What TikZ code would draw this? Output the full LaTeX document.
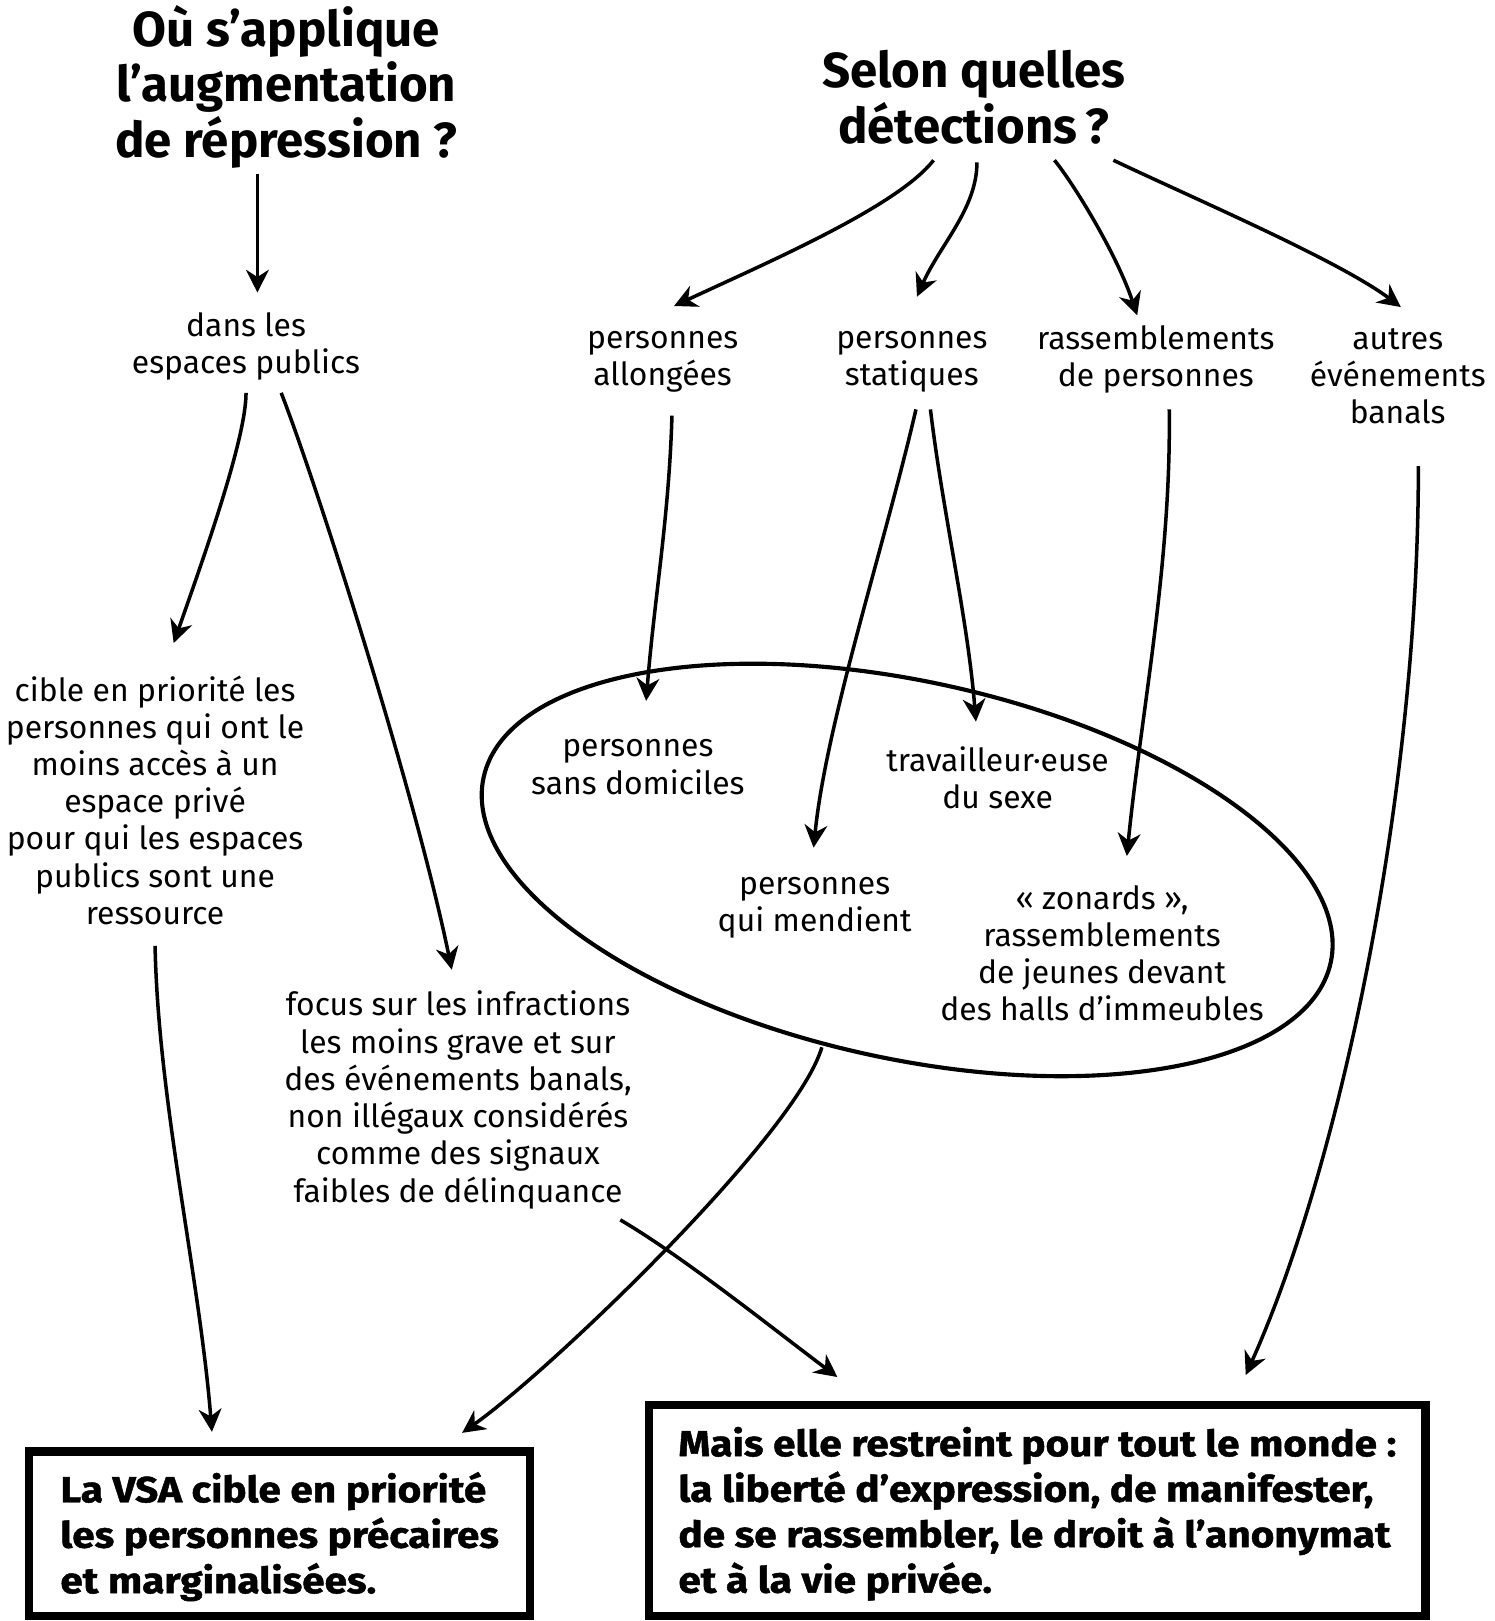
\documentclass[tikz,border=0pt]{standalone}
\usepackage{fontspec}
\setmainfont{Fira Sans}
\newfontfamily\heavyfont{Fira Sans}[BoldFeatures={FakeBold=1.3, FakeStretch=1.12}]
\usetikzlibrary{shapes, positioning, arrows.meta, calc}

\tikzset{
  question/.style={align=center, inner sep=0pt, font=\fontsize{23.8}{27}\selectfont\bfseries},
  detect/.style={align=center, inner sep=0pt, font=\fontsize{15.4}{18}\selectfont},
  verdict/.style={draw, line width=4pt, align=left, inner xsep=0pt,
    font=\fontsize{17.5}{22}\selectfont\heavyfont\bfseries},
  link/.style={-{Stealth[length=11pt,width=11pt,inset=3.5pt]}, line width=1.7pt},
}

\begin{document}
\begin{tikzpicture}[x=0.5pt, y=-0.5pt]
  \useasboundingbox (0,0) rectangle (1446,1568);

  % questions
  \node[question] (titleL) at (277,84) {Où s’applique\\l’augmentation\\de répression ?};
  \node[question] (titleR) at (942,94) {Selon quelles\\détections\,?};

  % detections
  \node[detect] (dans) at (238,335) {dans les\\espaces publics};
  \node[detect] (allong) at (641,350) {personnes\\allongées};
  \node[detect] (statiq) at (882,350) {personnes\\statiques};
  \node[detect] (rassemb) at (1118,348) {rassemblements\\de personnes};
  \node[detect] (autres) at (1352,364) {autres\\événements\\banals};
  \node[detect] (cible) at (150,774) {cible en priorité les\\personnes qui ont le\\moins accès à un\\espace privé\\pour qui les espaces\\publics sont une\\ressource};
  \node[detect] (focus) at (443,1064) {focus sur les infractions\\les moins grave et sur\\des événements banals,\\non illégaux considérés\\comme des signaux\\faibles de délinquance};

  % groupes cibles
  \node[
  draw,
  ellipse,
  line width=2pt,
  inner sep=0pt,
  minimum width=419.4pt,
  minimum height=182.4pt,
  rotate=-12.35
  ] (grp) at (877.5,841.5) {};
  \node[detect] (sansdom) at (617,742) {personnes\\sans domiciles};
  \node[detect] (mendient) at (788,878) {personnes\\qui mendient};
  \node[detect] (travail) at (965,752) {travailleur·euse\\du sexe};
  \node[detect] (zonards) at (1066,922) {« zonards »,\\rassemblements\\de jeunes devant\\des halls d’immeubles};

  % conclusions
  \node[
  verdict,
  minimum width=242.5pt,
  minimum height=79.5pt
  ] (boxL) at (270.5,1483.5) {\rule{0pt}{17.5pt}La VSA cible en priorité\\les personnes précaires\\et marginalisées.};
  \node[
  verdict,
  minimum width=375.5pt,
  minimum height=102pt
  ] (boxR) at (1003.5,1461) {\rule{0pt}{17.5pt}Mais elle restreint pour tout le monde :\\la liberté d’expression, de manifester,\\de se rassembler, le droit à l’anonymat\\et à la vie privée.};

  % arrows
  \draw[link] ($(titleL)+(-28,84)$) -- ($(dans)+(11,-52)$);
  \draw[link] ($(titleR)+(-39,61)$) .. controls +(-35,45) and +(90,-42) .. ($(allong)+(11,-54)$);
  \draw[link] ($(titleR)+(3,63)$) .. controls +(0,45) and +(22,-50) .. ($(statiq)+(5,-63)$);
  \draw[link] ($(titleR)+(78,61)$) .. controls +(18,22) and +(-20,-60) .. ($(rassemb)+(-18,-43)$);
  \draw[link] ($(titleR)+(135,61)$) .. controls +(80,38) and +(-60,-45) .. ($(autres)+(3,-67)$);
  \draw[link] ($(dans)+(0,45)$) .. controls +(0,45) and +(28,-80) .. ($(cible)+(18,-152)$);
  \draw[link] ($(dans)+(34,45)$) .. controls +(35,90) and +(-35,-170) .. ($(focus)+(-6,-126)$);
  \draw[link] ($(allong)+(9,52)$) .. controls +(-3,100) and +(8,-100) .. ($(sansdom)+(8,-64)$);
  \draw[link] ($(statiq)+(4,46)$) .. controls +(-30,130) and +(12,-120) .. ($(mendient)+(-1,-58)$);
  \draw[link] ($(statiq)+(18,46)$) .. controls +(12,100) and +(-8,-100) .. ($(travail)+(-21,-54)$);
  \draw[link] ($(rassemb)+(13,48)$) .. controls +(2,150) and +(14,-140) .. ($(zonards)+(24,-94)$);
  \draw[link] ($(autres)+(20,87)$) .. controls +(0,320) and +(90,-200) .. ($(boxR)+(201.5,-131)$);
  \draw[link] ($(cible)+(0,141)$) .. controls +(3,150) and +(-12,-150) .. ($(boxL)+(-65.5,-98.5)$);
  \draw[link] ($(grp)+(-82.5,171.5)$) .. controls +(-25,85) and +(85,-60) .. ($(boxL)+(176.5,-97.5)$);
  \draw[link] ($(focus)+(157,116)$) .. controls +(60,35) and +(-60,-45) .. ($(boxR)+(-193.5,-129)$);
\end{tikzpicture}
\end{document}
